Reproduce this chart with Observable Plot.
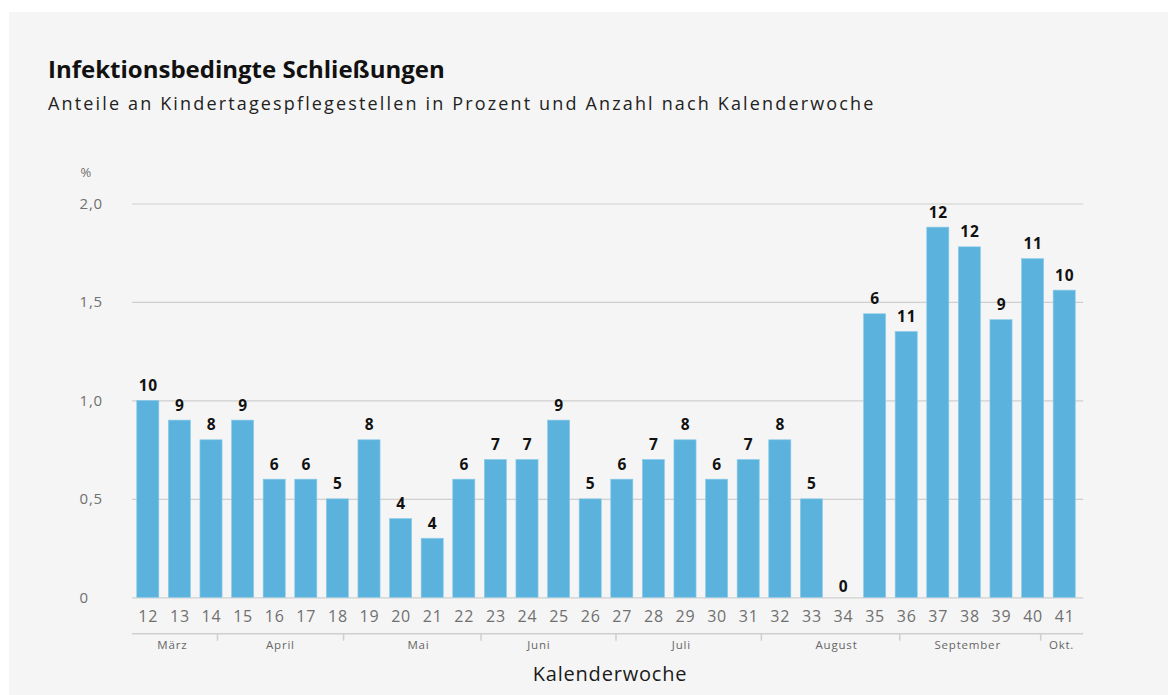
<!DOCTYPE html>
<html>
<head>
<meta charset="utf-8">
<script src="https://cdn.jsdelivr.net/npm/d3@7"></script>
<script src="https://cdn.jsdelivr.net/npm/@observablehq/plot@0.6"></script>
<style>
  html, body { margin: 0; padding: 0; background: #ffffff; width: 1168px; height: 695px; overflow: hidden; }
  #panel { position: absolute; left: 9px; top: 12px; width: 1159px; height: 683px; background: #f5f5f5; }
  #title { position: absolute; left: 39px; top: 45px; font-family: "Open Sans", sans-serif; font-weight: 700; font-size: 24px; line-height: 1; color: #111; white-space: nowrap; }
  #subtitle { position: absolute; left: 39px; top: 82px; font-family: "Open Sans", sans-serif; font-size: 18px; line-height: 1; letter-spacing: 2.15px; color: #222; white-space: nowrap; }
  #chart { position: absolute; left: 0; top: 118px; }
  #chart svg text { letter-spacing: 0.8px; }
</style>
</head>
<body>
<div id="panel">
  <div id="title">Infektionsbedingte Schließungen</div>
  <div id="subtitle">Anteile an Kindertagespflegestellen in Prozent und Anzahl nach Kalenderwoche</div>
  <div id="chart"></div>
</div>
<script>
const weeks  = [12,13,14,15,16,17,18,19,20,21,22,23,24,25,26,27,28,29,30,31,32,33,34,35,36,37,38,39,40,41];
const pct    = [1.0,0.9,0.8,0.9,0.6,0.6,0.5,0.8,0.4,0.3,0.6,0.7,0.7,0.9,0.5,0.6,0.7,0.8,0.6,0.7,0.8,0.5,0,1.44,1.35,1.88,1.78,1.41,1.72,1.56];
const counts = [10,9,8,9,6,6,5,8,4,4,6,7,7,9,5,6,7,8,6,7,8,5,0,6,11,12,12,9,11,10];
const yTicks = [0, 0.5, 1.0, 1.5, 2.0];
const yTickLabels = ["0", "0,5", "1,0", "1,5", "2,0"];
const monthNames = ["März","April","Mai","Juni","Juli","August","September","Okt."];
const monthLabelPos = [12.76, 16.18, 20.55, 24.36, 28.87, 33.78, 37.93, 40.90];
const monthBounds = [14.19, 18.18, 22.53, 26.80, 31.40, 35.78, 40.24];

const data = weeks.map((w, i) => ({week: w, pct: pct[i], count: counts[i]}));
const yt = yTicks.map((v, i) => ({v, label: yTickLabels[i]}));
const months = monthNames.map((m, i) => ({name: m, pos: monthLabelPos[i]}));

const W = 1159, H = 565;
const mt = 73.5, mb = 97.7;
const frameH = H - mt - mb;
const gray = "#707070";
const gridC = "#cfcfcf";
const xStart = 11.5, xEnd = 41.6;

const chart = Plot.plot({
  width: W, height: H,
  marginLeft: 123, marginRight: 88, marginTop: mt, marginBottom: mb,
  style: {background: "transparent", fontFamily: "'Open Sans', sans-serif", overflow: "visible"},
  x: {domain: [11.5, 41.5], axis: null},
  y: {domain: [0, 2], axis: null},
  marks: [
    Plot.ruleY(yTicks, {y: d => d, x1: xStart, x2: xEnd, stroke: gridC, strokeWidth: 1.2}),
    Plot.rectY(data, {x1: d => d.week - 0.35, x2: d => d.week + 0.35, y1: 0, y2: "pct", fill: "#5bb3dd", stroke: "#8cccea", strokeWidth: 0.6}),
    Plot.text(data.filter(d => d.pct > 0), {x: "week", y: "pct", text: d => String(d.count), dy: -15, fontWeight: "bold", fontSize: 15.5, fill: "#111"}),
    Plot.text(data.filter(d => d.pct === 0), {x: "week", y: "pct", text: d => String(d.count), dy: -11, fontWeight: "bold", fontSize: 15.5, fill: "#111"}),
    Plot.text(yt, {y: "v", text: "label", frameAnchor: "left", dx: -53, textAnchor: "start", fontSize: 15, fill: gray}),
    Plot.text(["%"], {frameAnchor: "top-left", dx: -52, dy: -36, textAnchor: "start", fontSize: 13, fill: gray}),
    Plot.text(weeks, {x: d => d, frameAnchor: "bottom", dy: 24.5, fontSize: 16, fill: gray}),
    Plot.ruleY([0], {x1: xStart, x2: xEnd, dy: 36, stroke: gridC, strokeWidth: 1.5}),
    Plot.ruleX(monthBounds, {x: d => d, insetTop: frameH - 7.4, dy: 43.4, stroke: gridC, strokeWidth: 1.5}),
    Plot.text(months, {x: "pos", text: "name", frameAnchor: "bottom", dy: 51.5, fontSize: 11.5, fill: "#666"}),
    Plot.text(["Kalenderwoche"], {frameAnchor: "bottom", dx: 3.5, dy: 83, fontSize: 20, fill: "#1a1a1a", style: "letter-spacing:1px"})
  ]
});
document.getElementById("chart").appendChild(chart);
</script>
</body>
</html>
